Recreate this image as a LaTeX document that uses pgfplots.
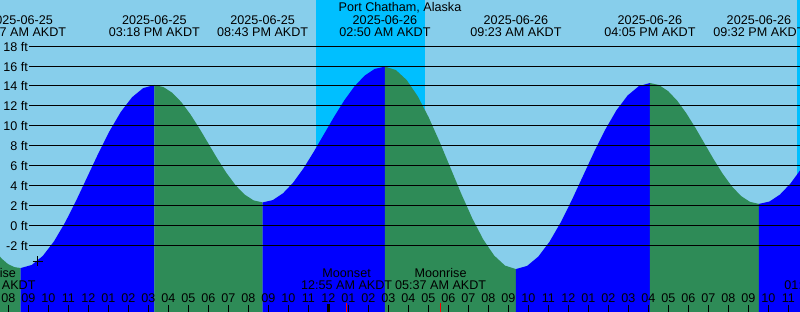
\documentclass[border=0pt]{standalone}
\usepackage{pgfplots}
\pgfplotsset{compat=1.18}
\usepackage{fontspec}
\setmainfont{Liberation Sans}
\definecolor{sky}{HTML}{87CEEB}
\definecolor{night}{HTML}{00BFFF}
\definecolor{rise}{HTML}{0000FF}
\definecolor{fall}{HTML}{2E8B57}
\newcommand{\lf}{\fontsize{12.6}{14}\selectfont}
\begin{document}
\begin{tikzpicture}
\begin{axis}[
  scale only axis, width=800pt, height=312pt,
  xmin=7.585, xmax=47.585, ymin=-8.714, ymax=22.643,
  hide axis, clip=true,
]
% sky
\addplot[fill=sky, draw=none] coordinates {(7,-10) (7,25) (48,25) (48,-10)};
% night bands
\addplot[fill=night, draw=none] coordinates {(23.385,-10) (23.385,25) (28.835,25) (28.835,-10)};
\addplot[fill=night, draw=none] coordinates {(47.42,-10) (47.42,25) (49,25) (49,-10)};
% falling (before first low)
\addplot[fill=fall, draw=none] coordinates {
(7.354,-10) (7.354,-2.6) (7.669,-3.35) (7.985,-3.9) (8.301,-4.2) (8.617,-4.3) (8.617,-10)};
% rising 1
\addplot[fill=rise, draw=none] coordinates {
(8.617,-10) (8.617,-4.3) (9.174,-3.986) (9.731,-3.067) (10.288,-1.605) (10.845,0.3)
(11.402,2.519) (11.959,4.9) (12.515,7.281) (13.072,9.5) (13.629,11.405) (14.186,12.867)
(14.743,13.786) (15.3,14.1) (15.3,-10)};
% falling 2
\addplot[fill=fall, draw=none] coordinates {
(15.3,-10) (15.3,14.1) (15.751,13.899) (16.203,13.310) (16.654,12.372) (17.106,11.15)
(17.557,9.727) (18.009,8.2) (18.460,6.673) (18.911,5.25) (19.363,4.028) (19.814,3.090)
(20.266,2.501) (20.717,2.3) (20.717,-10)};
% rising 3
\addplot[fill=rise, draw=none] coordinates {
(20.717,-10) (20.717,2.3) (21.227,2.533) (21.736,3.214) (22.246,4.299) (22.756,5.7125)
(23.265,7.359) (23.775,9.125) (24.285,10.891) (24.795,12.538) (25.304,13.951) (25.814,15.036)
(26.323,15.717) (26.833,15.95) (26.833,-10)};
% falling 4
\addplot[fill=fall, draw=none] coordinates {
(26.833,-10) (26.833,15.95) (27.379,15.603) (27.925,14.587) (28.471,12.970) (29.016,10.8625)
(29.562,8.409) (30.108,5.775) (30.654,3.141) (31.200,0.6875) (31.746,-1.420) (32.291,-3.037)
(32.837,-4.053) (33.383,-4.4) (33.383,-10)};
% rising 5
\addplot[fill=rise, draw=none] coordinates {
(33.383,-10) (33.383,-4.4) (33.941,-4.081) (34.500,-3.147) (35.058,-1.661) (35.616,0.275)
(36.175,2.530) (36.733,4.95) (37.291,7.370) (37.850,9.625) (38.408,11.561) (38.966,13.047)
(39.525,13.981) (40.083,14.3) (40.083,-10)};
% falling 6
\addplot[fill=fall, draw=none] coordinates {
(40.083,-10) (40.083,14.3) (40.537,14.093) (40.991,13.486) (41.446,12.521) (41.900,11.2625)
(42.354,9.797) (42.808,8.225) (43.262,6.653) (43.716,5.1875) (44.171,3.929) (44.625,2.964)
(45.079,2.357) (45.533,2.15) (45.533,-10)};
% rising 7
\addplot[fill=rise, draw=none] coordinates {
(45.533,-10) (45.533,2.15) (46.055,2.386) (46.578,3.078) (47.100,4.178) (47.622,5.6125)
(48.144,7.283) (48.144,-10)};
% grid lines and labels
\pgfplotsinvokeforeach{-2,0,2,4,6,8,10,12,14,16,18}{
  \draw[black, line width=1pt] (axis cs:9.035,#1) -- (axis cs:48,#1);
  \node[anchor=base east, inner sep=0pt, font=\lf] at (axis cs:8.985,#1-0.5) {#1 ft};
}
% current time mark
\addplot[only marks, mark=+, mark size=5pt, black, line width=0.9pt] coordinates {(9.47,-3.59)};
% hour ticks and labels
\pgfplotsinvokeforeach{8,...,47}{
  \draw[black, line width=0.8pt] (axis cs:#1,-8.01) -- (axis cs:#1,-9);
  \node[anchor=base, inner sep=0pt, font=\lf] at (axis cs:#1,-7.74)
    {\pgfmathtruncatemacro\hh{mod(#1-1,12)+1}\ifnum\hh<10 0\fi\hh};
}
\draw[black, line width=3pt] (axis cs:24,-7.94) -- (axis cs:24,-9);
\draw[red, line width=0.7pt] (axis cs:24.917,-7.84) -- (axis cs:24.917,-9);
\draw[red, line width=0.7pt] (axis cs:29.617,-7.84) -- (axis cs:29.617,-9);
% moon labels
\node[anchor=base, inner sep=0pt, font=\lf] at (axis cs:7.085,-5.27) {Moonrise};
\node[anchor=base, inner sep=0pt, font=\lf] at (axis cs:7.085,-6.50) {07:07 AM AKDT};
\node[anchor=base, inner sep=0pt, font=\lf] at (axis cs:24.917,-5.27) {Moonset};
\node[anchor=base, inner sep=0pt, font=\lf] at (axis cs:24.917,-6.50) {12:55 AM AKDT};
\node[anchor=base, inner sep=0pt, font=\lf] at (axis cs:29.617,-5.27) {Moonrise};
\node[anchor=base, inner sep=0pt, font=\lf] at (axis cs:29.617,-6.50) {05:37 AM AKDT};
\node[anchor=base, inner sep=0pt, font=\lf] at (axis cs:49.085,-5.27) {Moonset};
\node[anchor=base, inner sep=0pt, font=\lf] at (axis cs:49.085,-6.50) {01:05 AM AKDT};
% title
\node[anchor=base, inner sep=0pt, font=\lf] at (axis cs:27.585,21.47) {Port Chatham, Alaska};
% extremes labels
\pgfplotsinvokeforeach{8.617/2025-06-25/08:37 AM AKDT,15.3/2025-06-25/03:18 PM AKDT,20.717/2025-06-25/08:43 PM AKDT,26.833/2025-06-26/02:50 AM AKDT,33.383/2025-06-26/09:23 AM AKDT,40.083/2025-06-26/04:05 PM AKDT,45.533/2025-06-26/09:32 PM AKDT}{}
\node[anchor=base, inner sep=0pt, font=\lf] at (axis cs:8.617,20.23) {2025-06-25};
\node[anchor=base, inner sep=0pt, font=\lf] at (axis cs:8.617,18.99) {08:37 AM AKDT};
\node[anchor=base, inner sep=0pt, font=\lf] at (axis cs:15.3,20.23) {2025-06-25};
\node[anchor=base, inner sep=0pt, font=\lf] at (axis cs:15.3,18.99) {03:18 PM AKDT};
\node[anchor=base, inner sep=0pt, font=\lf] at (axis cs:20.717,20.23) {2025-06-25};
\node[anchor=base, inner sep=0pt, font=\lf] at (axis cs:20.717,18.99) {08:43 PM AKDT};
\node[anchor=base, inner sep=0pt, font=\lf] at (axis cs:26.833,20.23) {2025-06-26};
\node[anchor=base, inner sep=0pt, font=\lf] at (axis cs:26.833,18.99) {02:50 AM AKDT};
\node[anchor=base, inner sep=0pt, font=\lf] at (axis cs:33.383,20.23) {2025-06-26};
\node[anchor=base, inner sep=0pt, font=\lf] at (axis cs:33.383,18.99) {09:23 AM AKDT};
\node[anchor=base, inner sep=0pt, font=\lf] at (axis cs:40.083,20.23) {2025-06-26};
\node[anchor=base, inner sep=0pt, font=\lf] at (axis cs:40.083,18.99) {04:05 PM AKDT};
\node[anchor=base, inner sep=0pt, font=\lf] at (axis cs:45.533,20.23) {2025-06-26};
\node[anchor=base, inner sep=0pt, font=\lf] at (axis cs:45.533,18.99) {09:32 PM AKDT};
\coordinate (bbSW) at (rel axis cs:0,0);
\coordinate (bbNE) at (rel axis cs:1,1);
\end{axis}
\pgfresetboundingbox
\useasboundingbox (bbSW) rectangle (bbNE);
\end{tikzpicture}
\end{document}
